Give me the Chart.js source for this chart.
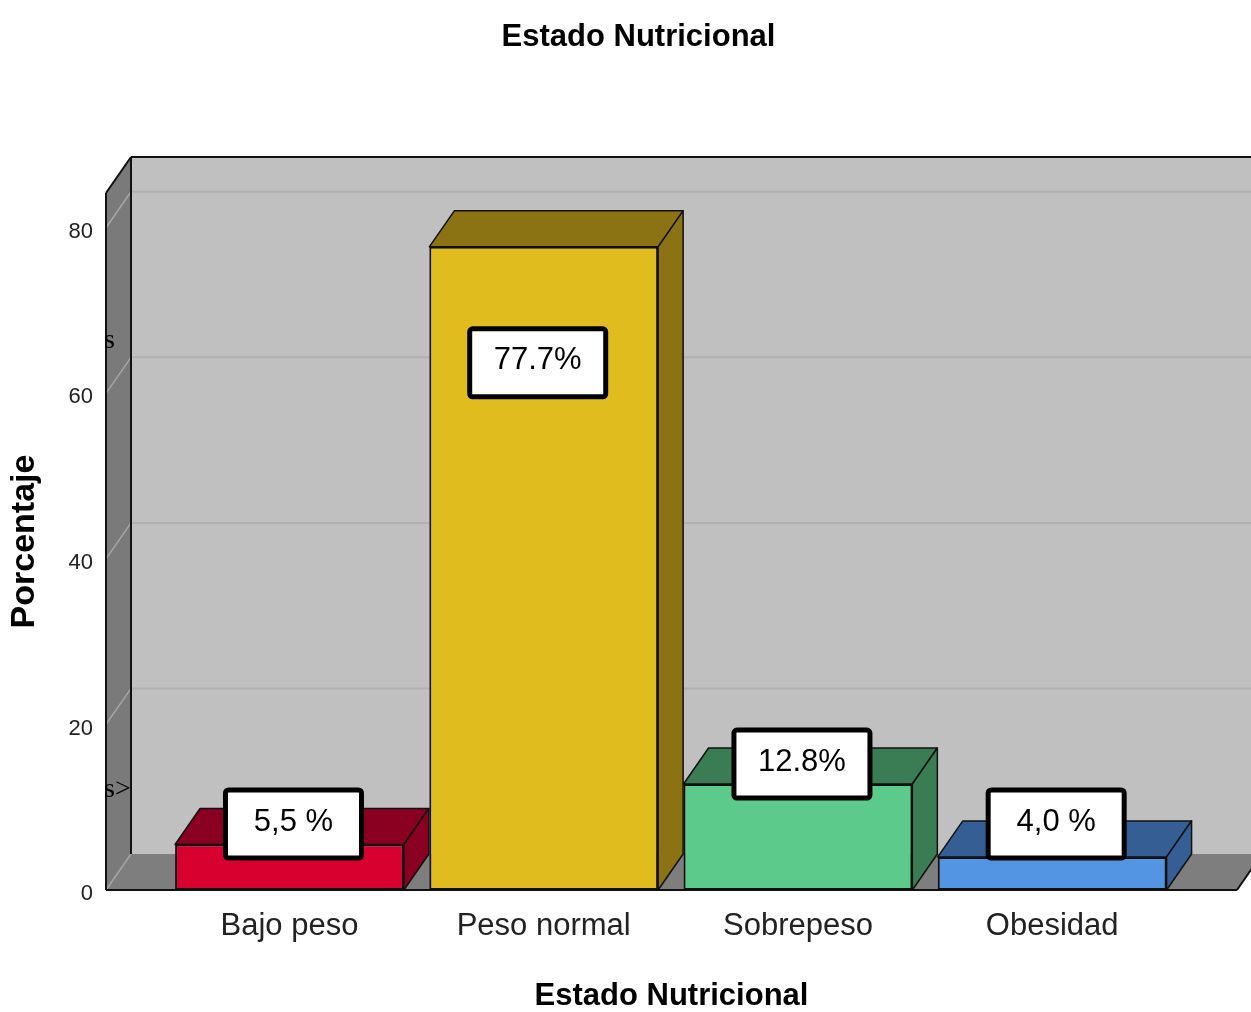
<!DOCTYPE html>
<html>
<head>
<meta charset="utf-8">
<title>Estado Nutricional</title>
<script src="https://cdn.jsdelivr.net/npm/chart.js@4.4.1/dist/chart.umd.min.js"></script>
<style>
  html, body { margin:0; padding:0; background:#fff; }
  #wrap { width:1251px; height:1012px; }
</style>
</head>
<body>
<div id="wrap"><canvas id="chart" width="1251" height="1012"></canvas></div>
<script>

/* =========================
   DATA
========================= */
const categories = ["Bajo peso", "Peso normal", "Sobrepeso", "Obesidad"]
const percentages = [5.5, 77.7, 12.8, 4.0]
const valueLabels = ["5,5 %", "77.7%", "12.8%", "4,0 %"]
const yTicks = [0, 20, 40, 60, 80]

const frontColors = ["#d7002f", "#e1bc1f", "#5cca8a", "#5495e3"]
const darkColors  = ["#8a0020", "#8b7314", "#3a7d55", "#345e94"]

/* depth of the 3D box */
const DX = 25
const DY = -36

const FONT = "'Liberation Sans', Arial, sans-serif"

/* =========================
   3D PLUGIN
========================= */
function line(ctx, x1, y1, x2, y2){
  ctx.beginPath()
  ctx.moveTo(x1, y1)
  ctx.lineTo(x2, y2)
  ctx.stroke()
}

function poly(ctx, pts, fill, stroke, lw){
  ctx.beginPath()
  ctx.moveTo(pts[0][0], pts[0][1])
  for(let i = 1; i < pts.length; i++) ctx.lineTo(pts[i][0], pts[i][1])
  ctx.closePath()
  ctx.fillStyle = fill
  ctx.fill()
  if(stroke){
    ctx.strokeStyle = stroke
    ctx.lineWidth = lw
    ctx.lineJoin = "round"
    ctx.stroke()
  }
}

const box3d = {
  id: "box3d",

  beforeDatasetsDraw(chart){
    const ctx = chart.ctx
    const {left:L, right:R, top:T, bottom:B} = chart.chartArea
    const y = chart.scales.y

    ctx.save()

    /* back wall */
    poly(ctx, [[L+DX,T+DY],[R+DX,T+DY],[R+DX,B+DY],[L+DX,B+DY]], "#c0c0c0")

    /* back wall grid */
    ctx.strokeStyle = "#b1b1b1"
    ctx.lineWidth = 2
    yTicks.forEach(v => {
      if(v === 0) return
      const py = y.getPixelForValue(v) + DY
      line(ctx, L+DX, py, R+DX, py)
    })

    /* side wall */
    poly(ctx, [[L,T],[L+DX,T+DY],[L+DX,B+DY],[L,B]], "#7a7a7a")

    /* floor */
    poly(ctx, [[L,B],[L+DX,B+DY],[R+DX,B+DY],[R,B]], "#7e7e7e")

    /* side wall grid */
    ctx.strokeStyle = "#a6a6a6"
    ctx.lineWidth = 1.5
    yTicks.forEach(v => {
      const py = y.getPixelForValue(v)
      line(ctx, L, py, L+DX, py+DY)
    })

    /* outlines */
    ctx.strokeStyle = "#111"
    ctx.lineWidth = 2
    line(ctx, L, T, L, B)
    line(ctx, L, T, L+DX, T+DY)
    line(ctx, L+DX, T+DY, R+DX+30, T+DY)
    line(ctx, L+DX, T+DY, L+DX, B+DY)
    line(ctx, L, B, R, B)
    line(ctx, R, B, R+DX, B+DY)

    /* stray marks on the side wall */
    ctx.fillStyle = "#000"
    ctx.font = "28px 'Liberation Serif', serif"
    ctx.textAlign = "left"
    ctx.textBaseline = "alphabetic"
    ctx.fillText("s", 104, 348)
    ctx.fillText("s>", 104, 797)

    ctx.restore()
  },

  afterDatasetsDraw(chart){
    const ctx = chart.ctx
    const meta = chart.getDatasetMeta(0)
    const base = chart.scales.y.getPixelForValue(0)

    ctx.save()

    /* top and side faces */
    meta.data.forEach((bar, i) => {
      const l = bar.x - bar.width / 2
      const r = bar.x + bar.width / 2
      const t = bar.y
      poly(ctx, [[l,t],[l+DX,t+DY],[r+DX,t+DY],[r,t]], darkColors[i], "#111", 1.5)
      poly(ctx, [[r,t],[r+DX,t+DY],[r+DX,base+DY],[r,base]], darkColors[i], "#111", 1.5)
    })

    /* value boxes */
    meta.data.forEach((bar, i) => {
      const w = 141, h = 73
      let cx, cy
      if(percentages[i] > 50){
        // label sits inside tall bars
        cx = bar.x - 6
        cy = bar.y + 116
      }else{
        cx = bar.x + 4
        cy = Math.min(bar.y - 20, base - 66)
      }
      ctx.beginPath()
      ctx.roundRect(cx - w/2 + 2.5, cy - h/2 + 2.5, w - 5, h - 5, 3)
      ctx.fillStyle = "#fff"
      ctx.fill()
      ctx.lineWidth = 5
      ctx.strokeStyle = "#000"
      ctx.stroke()

      ctx.fillStyle = "#000"
      ctx.font = "31px " + FONT
      ctx.textAlign = "center"
      ctx.textBaseline = "middle"
      ctx.fillText(valueLabels[i], cx, cy - 2)
    })

    ctx.restore()
  }
}

/* =========================
   CHART
========================= */
const points = percentages.map((v, i) => ({ x: i, y: v }))

new Chart(document.getElementById("chart"), {
  type: "bar",
  data: {
    datasets: [{
      data: points,
      backgroundColor: frontColors,
      borderColor: "#111",
      borderWidth: 2,
      borderSkipped: false,
      categoryPercentage: 1,
      barPercentage: 0.9
    }]
  },
  options: {
    responsive: false,
    animation: false,
    devicePixelRatio: 1,
    layout: { padding: { left: 40, right: 14, top: 0, bottom: 0 } },
    plugins: {
      legend: { display: false },
      tooltip: { enabled: false },
      title: {
        display: true,
        text: "Estado Nutricional",
        color: "#000",
        font: { family: FONT, size: 31, weight: "bold", lineHeight: 1.2 },
        padding: { top: 18.4, bottom: 137.4 }
      }
    },
    scales: {
      x: {
        type: "linear",
        offset: false,
        min: -0.7217,
        max: 3.727,
        grid: { display: false, drawTicks: false, offset: false },
        border: { display: false },
        afterBuildTicks: scale => {
          scale.ticks = categories.map((c, i) => ({ value: i }))
        },
        afterFit: scale => { scale.height = 122 },
        ticks: {
          callback: v => categories[v],
          color: "#222",
          padding: 17.4,
          maxRotation: 0,
          autoSkip: false,
          font: { family: FONT, size: 31, lineHeight: 1.2 }
        },
        title: {
          display: true,
          text: "Estado Nutricional",
          color: "#000",
          font: { family: FONT, size: 31, weight: "bold", lineHeight: 1 },
          padding: { top: 0, bottom: 0 }
        }
      },
      y: {
        min: 0,
        max: 84.2,
        grid: { display: false, drawTicks: false },
        border: { display: false },
        afterFit: scale => { scale.width = 66 },
        ticks: {
          stepSize: 20,
          includeBounds: false,
          color: "#222",
          padding: 13,
          labelOffset: 4,
          font: { family: FONT, size: 22 }
        },
        title: {
          display: true,
          text: "Porcentaje",
          color: "#000",
          font: { family: FONT, size: 34, weight: "bold", lineHeight: 1 },
          padding: { top: -32, bottom: 0 }
        }
      }
    }
  },
  plugins: [box3d]
})
</script>
</body>
</html>
